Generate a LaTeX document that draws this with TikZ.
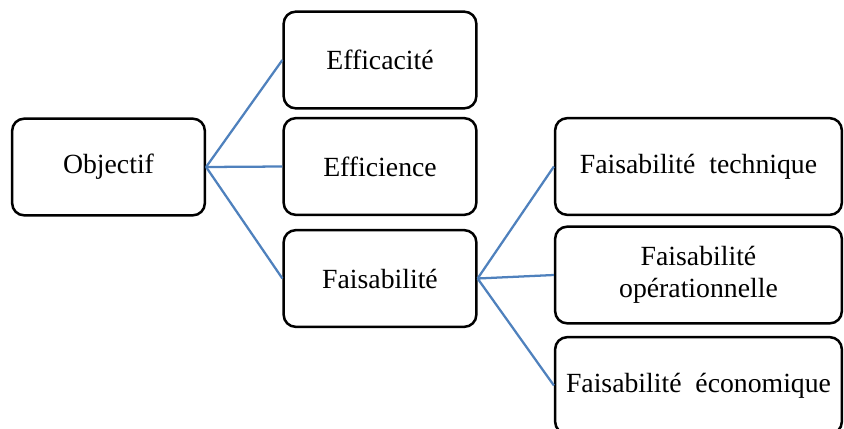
\documentclass[tikz,border=0pt]{standalone}
\usepackage{fontspec}
\setmainfont{Liberation Serif}
\usepackage{tikz}

\definecolor{linkblue}{RGB}{79,129,189}

\begin{document}
\begin{tikzpicture}[x=0.75pt,y=-0.75pt,
  box/.style={draw=black, line width=1.9pt, rounded corners=9pt, align=center,
    font=\fontsize{20.8}{21}\selectfont, inner sep=0pt},
  leftbox/.style={box, minimum width=144.5pt, minimum height=72.5pt},
  rightbox/.style={box, minimum width=215pt, minimum height=72.5pt},
  link/.style={draw=linkblue, line width=1.7pt}]
\useasboundingbox (0,0) rectangle (844,429);
\clip (0,0) rectangle (844,429);
% first level
\node[leftbox] (obj) at (108.5,167) {Objectif};
\node[leftbox] (effa) at (380,60) {Efficacité};
\node[leftbox] (effi) at (380,166.5) {Efficience};
\node[leftbox] (fais) at (380,278.5) {Faisabilité};
% second level
\node[rightbox] (tech) at (698.5,166.5) {Faisabilité~ technique};
\node[rightbox] (oper) at (698.5,275) {Faisabilité\\[3pt]opérationnelle};
\node[rightbox] (eco) at (698.5,385.5) {Faisabilité~ économique};
% links
\draw[link] (obj.east) -- (effa.west);
\draw[link] (obj.east) -- (effi.west);
\draw[link] (obj.east) -- (fais.west);
\draw[link] (fais.east) -- (tech.west);
\draw[link] (fais.east) -- (oper.west);
\draw[link] (fais.east) -- (eco.west);
\end{tikzpicture}
\end{document}
